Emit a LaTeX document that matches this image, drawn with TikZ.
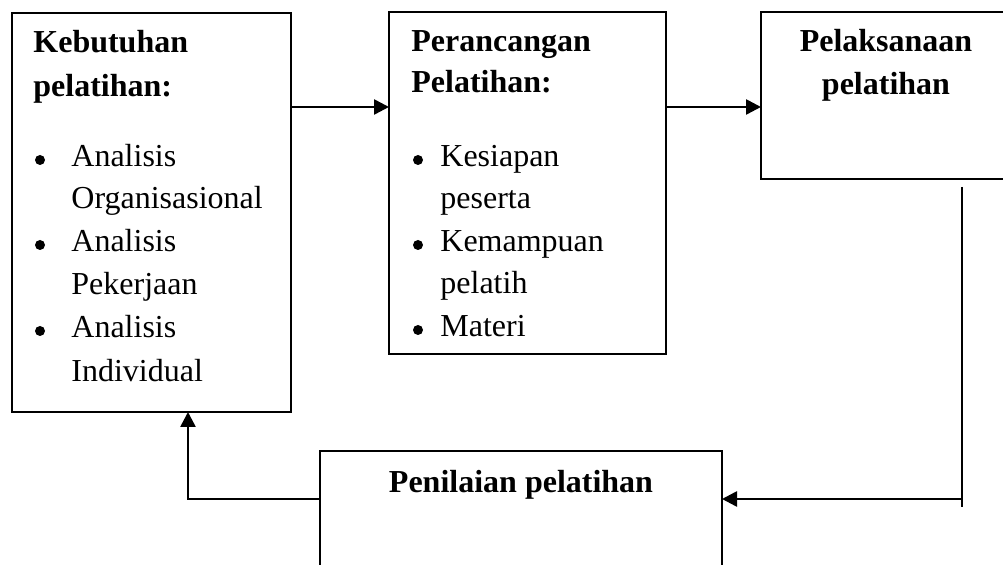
\documentclass[tikz,border=0pt]{standalone}
\usepackage{fontspec}
\setmainfont{Liberation Serif}
\usetikzlibrary{arrows.meta,fit}
\begin{document}
\begin{tikzpicture}[x=0.5pt,y=-0.5pt,
  box/.style={draw,line width=0.9pt,inner sep=0pt,outer sep=0pt},
  txt/.style={inner sep=0pt,anchor=base west,font=\fontsize{16pt}{21pt}\selectfont},
  hd/.style={inner sep=0pt,anchor=base west,font=\fontsize{16pt}{21pt}\selectfont\bfseries},
  hdc/.style={inner sep=0pt,anchor=base,font=\fontsize{16pt}{21pt}\selectfont\bfseries},
  bul/.style={circle,fill=black,inner sep=0pt,minimum size=5pt},
  arr/.style={line width=1.3pt,-{Triangle[length=7.5pt,width=7.5pt]}}]
\useasboundingbox (0,0) rectangle (1003,565);
\clip (0,0) rectangle (1003,565);
% boxes
\node[box,fit={(12,13)(291,412)}] (b1) {};
\node[box,fit={(389,12)(666,354)}] (b2) {};
\node[box,fit={(761,12)(1011,179)}] (b3) {};
\node[box,fit={(320,451)(722,640)}] (b4) {};
% box 1 text
\node[hd] (t11) at (33,53) {Kebutuhan};
\node[hd] (t12) at (33,97) {pelatihan:};
\node[bul] (u11) at (40,160) {};
\node[txt] (t13) at (71,167) {Analisis};
\node[txt] (t14) at (71,209) {Organisasional};
\node[bul] (u12) at (40,245) {};
\node[txt] (t15) at (71,252) {Analisis};
\node[txt] (t16) at (71,295) {Pekerjaan};
\node[bul] (u13) at (40,331) {};
\node[txt] (t17) at (71,338) {Analisis};
\node[txt] (t18) at (71,382) {Individual};
% box 2 text
\node[hd] (t21) at (411,52) {Perancangan};
\node[hd] (t22) at (411,93) {Pelatihan:};
\node[bul] (u21) at (418,160) {};
\node[txt] (t23) at (440,167) {Kesiapan};
\node[txt] (t24) at (440,209) {peserta};
\node[bul] (u22) at (418,245) {};
\node[txt] (t25) at (440,252) {Kemampuan};
\node[txt] (t26) at (440,294) {pelatih};
\node[bul] (u23) at (418,330) {};
\node[txt] (t27) at (440,337) {Materi};
% box 3 text
\node[hdc] (t31) at (886,52) {Pelaksanaan};
\node[hdc] (t32) at (886,95) {pelatihan};
% box 4 text
\node[hdc] (t41) at (521,493) {Penilaian pelatihan};
% connectors
\draw[arr] (b1.east |- 0,107) -- (b2.west |- 0,107);
\draw[arr] (b2.east |- 0,107) -- (b3.west |- 0,107);
\coordinate (v1) at (962,187);
\coordinate (v2) at (962,507);
\coordinate (v3) at (962,499);
\draw[line width=0.8pt] (v1) -- (v2);
\draw[arr] (v3) -- (b4.east |- v3);
\coordinate (k1) at (188,499);
\draw[arr] (b4.west |- k1) -- (k1) -- (b1.south -| k1);
\end{tikzpicture}
\end{document}
